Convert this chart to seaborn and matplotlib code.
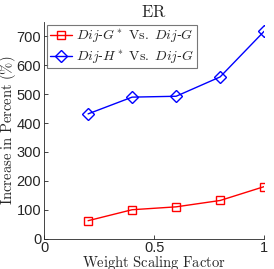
import numpy as np
import pandas as pd
import seaborn as sns
import matplotlib as mpl
mpl.use('Agg')
import matplotlib.pyplot as plt

# data
weight = [0.2, 0.4, 0.6, 0.8, 1.0]
dij_g_star = [62, 100, 110, 132, 180]
dij_h_star = [432, 490, 493, 560, 718]
lbl_g = r'$Dij$-$G^*$ $\mathrm{Vs.}$ $Dij$-$G$'
lbl_h = r'$Dij$-$H^*$ $\mathrm{Vs.}$ $Dij$-$G$'

sns.set_style('ticks')
plt.rcParams['font.family'] = ['Liberation Sans', 'DejaVu Sans']
plt.rcParams['mathtext.fontset'] = 'cm'
plt.rcParams['xtick.direction'] = 'in'
plt.rcParams['ytick.direction'] = 'in'

fig = plt.figure(figsize=(2.74, 2.69), dpi=100)
ax = fig.add_axes([0.161, 0.113, 0.803, 0.805])

sns.lineplot(x=weight, y=dij_g_star, ax=ax, color='#ff0000', marker='s', ms=6,
             mfc='none', mec='#ff0000', mew=1, lw=1, label=lbl_g)
sns.lineplot(x=weight, y=dij_h_star, ax=ax, color='#0000ff', marker='D', ms=6,
             mfc='none', mec='#0000ff', mew=1, lw=1, label=lbl_h)

ax.set_xlim(0, 1)
ax.set_ylim(0, 750)
ax.set_xticks([0, 0.5, 1])
ax.set_xticklabels(['0', '0.5', '1'])
ax.set_yticks(range(0, 701, 100))
ax.tick_params(labelsize=10.5, length=3, width=0.6, pad=2)
for s in ['left', 'bottom']:
    ax.spines[s].set_linewidth(0.6)
sns.despine(ax=ax)

ax.set_title(r'$\mathrm{ER}$', fontsize=12, pad=4)
ax.set_xlabel(r'$\mathrm{Weight\ Scaling\ Factor}$', fontsize=10.5)
ax.xaxis.set_label_coords(0.5, -0.072)
ax.set_ylabel(r'$\mathrm{Increase\ in\ Percent\ (\%)}$', fontsize=10.5)
ax.yaxis.set_label_coords(-0.12, 0.5)

leg = ax.legend(loc='upper left', fontsize=10, frameon=True, fancybox=False,
                borderpad=0.2, handlelength=1.6, handletextpad=0.3,
                labelspacing=0.25, borderaxespad=0.2)
leg.get_frame().set_edgecolor('#555555')
leg.get_frame().set_linewidth(0.8)

fig.savefig('out.png', dpi=100)
